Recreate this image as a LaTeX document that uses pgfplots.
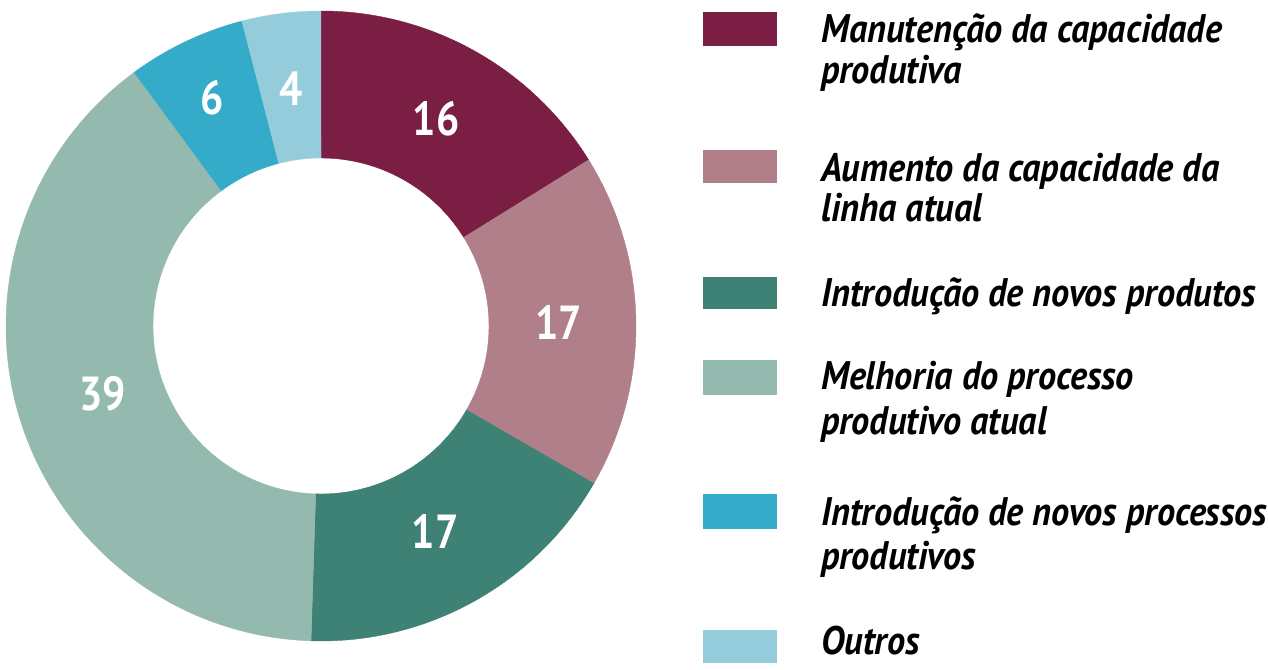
\documentclass[border=0pt]{standalone}
\usepackage{pgfplots}
\pgfplotsset{compat=1.18}
\usepackage{pgfplotstable}
\usepackage{fontspec}
\setmainfont{PT Sans}
\newfontfamily\legfont{PT Sans}[FakeStretch=0.91]
\newfontfamily\numfont{PT Sans}[FakeStretch=0.86]
\definecolor{c0}{HTML}{7A1F43}
\definecolor{c1}{HTML}{B07F89}
\definecolor{c2}{HTML}{3E8275}
\definecolor{c3}{HTML}{94BAAF}
\definecolor{c4}{HTML}{34ABC8}
\definecolor{c5}{HTML}{95CCDC}

% value and radius at which its label is set
\pgfplotstableread{
value labelr
16 237
17 238
17 235
39 229
6 253
4 239
}\donut

\begin{document}
\begin{tikzpicture}
% cumulative angles from the data
\gdef\cum{0}
\pgfplotsforeachungrouped \i in {0,...,5}{%
  \pgfplotstablegetelem{\i}{value}\of\donut
  \edef\v{\pgfplotsretval}%
  \pgfplotstablegetelem{\i}{labelr}\of\donut
  \expandafter\xdef\csname lr\i\endcsname{\pgfplotsretval}%
  \expandafter\xdef\csname val\i\endcsname{\v}%
  \pgfmathsetmacro\ts{90-(360/99)*\cum}%
  \pgfmathsetmacro\newcum{\cum+\v}%
  \xdef\cum{\newcum}%
  \pgfmathsetmacro\te{90-(360/99)*\cum}%
  \pgfmathsetmacro\tm{(\ts+\te)/2}%
  \expandafter\xdef\csname ts\i\endcsname{\ts}%
  \expandafter\xdef\csname te\i\endcsname{\te}%
  \expandafter\xdef\csname tm\i\endcsname{\tm}%
}
\begin{axis}[
  x=1bp, y=1bp,
  xmin=0, xmax=1268, ymin=0, ymax=670,
  hide axis, clip=false,
]
\path (axis cs:0,0) rectangle (axis cs:1268,670);
\pgfplotsinvokeforeach{0,...,5}{
  \filldraw[fill=c#1, draw=c#1, line width=0.4bp]
    (axis cs:{321+315*cos(\csname ts#1\endcsname)},{344+315*sin(\csname ts#1\endcsname)})
    arc[start angle=\csname ts#1\endcsname, end angle=\csname te#1\endcsname, radius=315bp]
    -- (axis cs:{321+168*cos(\csname te#1\endcsname)},{344+168*sin(\csname te#1\endcsname)})
    arc[start angle=\csname te#1\endcsname, end angle=\csname ts#1\endcsname, radius=168bp]
    -- cycle;
  \node[text=white, font=\numfont\bfseries\fontsize{48}{48}\selectfont, inner sep=0pt]
    at (axis cs:{321+\csname lr#1\endcsname*cos(\csname tm#1\endcsname)},{344+\csname lr#1\endcsname*sin(\csname tm#1\endcsname)})
    {\csname val#1\endcsname};
}
% legend
\fill[c0] (axis cs:703,624) rectangle (axis cs:777,658);
\fill[c1] (axis cs:703,487) rectangle (axis cs:777,520);
\fill[c2] (axis cs:703,361) rectangle (axis cs:777,393);
\fill[c3] (axis cs:703,275) rectangle (axis cs:777,310);
\fill[c4] (axis cs:703,141) rectangle (axis cs:777,176);
\fill[c5] (axis cs:703,7) rectangle (axis cs:777,40);
\tikzset{leg/.style={anchor=base west, inner sep=0pt, font=\legfont\bfseries\itshape\fontsize{40}{42}\selectfont}}
\node[leg] at (axis cs:821,627) {Manutenção da capacidade};
\node[leg] at (axis cs:821,586) {produtiva};
\node[leg] at (axis cs:821,488) {Aumento da capacidade da};
\node[leg] at (axis cs:821,448) {linha atual};
\node[leg] at (axis cs:821,363) {Introdução de novos produtos};
\node[leg] at (axis cs:821,280) {Melhoria do processo};
\node[leg] at (axis cs:821,235) {produtivo atual};
\node[leg] at (axis cs:821,144) {Introdução de novos processos};
\node[leg] at (axis cs:821,100) {produtivos};
\node[leg] at (axis cs:821,15) {Outros};
\end{axis}
\end{tikzpicture}
\end{document}
